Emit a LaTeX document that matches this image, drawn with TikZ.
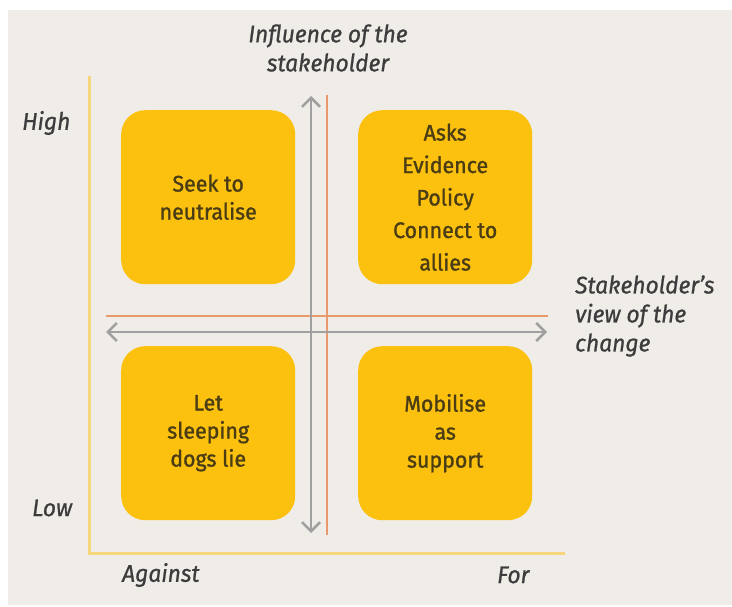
\documentclass[tikz,border=0pt]{standalone}
\usepackage{fontspec}
\setmainfont{Fira Sans}
\usetikzlibrary{arrows.meta}
\definecolor{bgc}{HTML}{F0ECE8}
\definecolor{boxc}{HTML}{FCC10E}
\definecolor{boxtext}{HTML}{4A3C14}
\definecolor{axisy}{HTML}{F6D57C}
\definecolor{orangel}{HTML}{E9996B}
\definecolor{grayl}{HTML}{A0A0A0}
\definecolor{labelc}{HTML}{3C3C3C}
\tikzset{
  quad/.style={fill=boxc, rounded corners=24pt, minimum width=174pt, minimum height=174pt, inner sep=0pt, align=center, text=boxtext, font=\fontsize{22.5}{28}\selectfont\addfontfeature{FakeBold=1.2,FakeStretch=0.95}, anchor=north west},
  lab/.style={text=labelc, font=\fontsize{24}{29}\selectfont\itshape\addfontfeature{FakeBold=0.8,FakeStretch=0.95}, inner sep=0pt},
  yaxis/.style={draw=axisy, line width=3pt},
  oline/.style={draw=orangel, line width=2.2pt},
  garrow/.style={draw=grayl, line width=2.5pt, {Straight Barb[length=9pt,width=18pt,line width=2.5pt]}-{Straight Barb[length=9pt,width=18pt,line width=2.5pt]}}
}
\begin{document}
\begin{tikzpicture}[x=1pt,y=-1pt]
\useasboundingbox (0,0) rectangle (732,607);
\fill[white] (0,0) rectangle (732,607);
\fill[bgc] (8,10) rectangle (732,605);
% axes
\coordinate (ytop) at (89,76);
\coordinate (orig) at (89,553);
\coordinate (xend) at (565,553);
\draw[yaxis] (ytop) -- (orig) -- (xend);
% boxes
\node[quad] (tl) at (121,110) {Seek to\\neutralise};
\node[quad, font=\fontsize{22.5}{32.5}\selectfont\addfontfeature{FakeBold=1.2,FakeStretch=0.95}] (tr) at (358,110) {Asks\\Evidence\\Policy\\Connect to\\allies};
\node[quad] (bl) at (121,346) {Let\\sleeping\\dogs lie};
\node[quad] (br) at (358,346) {Mobilise\\as\\support};
% cross lines
\coordinate (ot) at (327,95);
\coordinate (ob) at (327,535);
\coordinate (ol) at (106,316);
\coordinate (or) at (548,316);
\draw[oline] (ot) -- (ob);
\draw[oline] (ol) -- (or);
\coordinate (gt) at (311,96);
\coordinate (gb) at (311,533);
\coordinate (gl) at (106,332);
\coordinate (gr) at (547,332);
\draw[garrow] (gb) -- (gt);
\draw[garrow] (gl) -- (gr);
% labels
\node[lab, align=center] (infl) at (328,48) {Influence of the\\stakeholder};
\node[lab, anchor=west] (high) at (22,123) {High};
\node[lab, anchor=west] (low) at (32,508) {Low};
\node[lab, anchor=west] (ag) at (122,575) {Against};
\node[lab, anchor=west] (for) at (497,575) {For};
\node[lab, align=left, anchor=west] (view) at (575,316) {Stakeholder’s\\view of the\\change};
\end{tikzpicture}
\end{document}
